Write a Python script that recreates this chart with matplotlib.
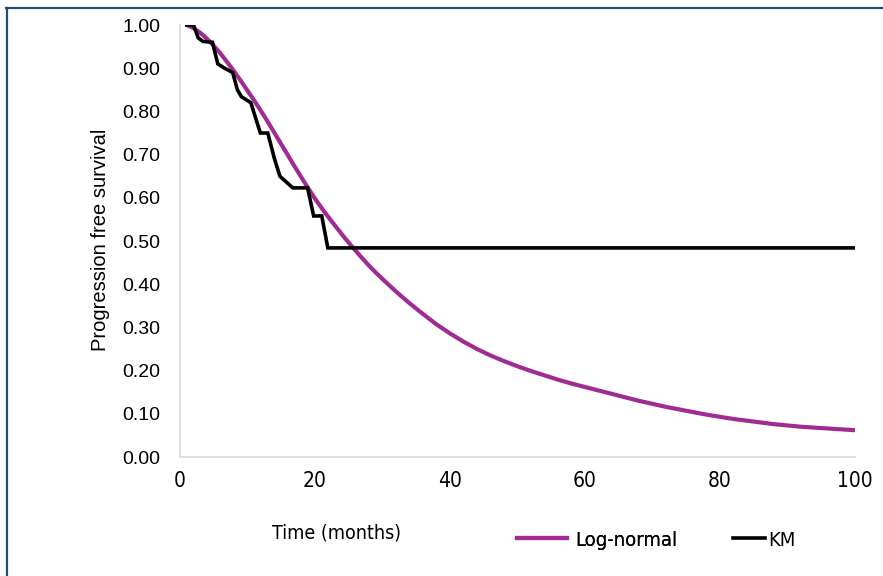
import matplotlib.pyplot as plt
from matplotlib.lines import Line2D
from matplotlib.ticker import FormatStrFormatter
from matplotlib.font_manager import FontProperties

# ------------------------------------------------------------------
# Data
# ------------------------------------------------------------------
km_time = [1, 2, 2.7, 3.4, 4.8, 5.6, 6.6, 7.8, 8.5, 9.1, 10.5, 11.9, 13.0,
           14.0, 14.8, 16.7, 18.9, 19.8, 21.0, 21.9, 100]
km_surv = [1.0, 1.0, 0.97, 0.962, 0.96, 0.91, 0.90, 0.89, 0.85, 0.834, 0.82,
           0.75, 0.75, 0.69, 0.65, 0.623, 0.623, 0.558, 0.558, 0.484, 0.484]

ln_time = [1, 2, 3, 4, 5, 6, 7, 8, 9, 10, 11, 12, 13, 14, 15, 16, 17, 18, 19,
           20, 21, 22, 23, 24, 25, 26, 27, 28, 29, 30, 32, 34, 36, 38, 40, 42,
           44, 46, 48, 50, 52, 54, 56, 58, 60, 62, 64, 66, 68, 70, 72, 74, 76,
           78, 80, 82, 84, 86, 88, 90, 92, 94, 96, 98, 100]
ln_surv = [1.000, 0.993, 0.982, 0.968, 0.952, 0.934, 0.914, 0.893, 0.871,
           0.848, 0.825, 0.801, 0.776, 0.750, 0.724, 0.698, 0.672, 0.647,
           0.622, 0.598, 0.576, 0.555, 0.535, 0.515, 0.496, 0.478, 0.460,
           0.443, 0.427, 0.412, 0.383, 0.356, 0.331, 0.307, 0.286, 0.267,
           0.250, 0.235, 0.222, 0.210, 0.199, 0.189, 0.179, 0.170, 0.162,
           0.154, 0.146, 0.138, 0.130, 0.123, 0.116, 0.110, 0.104, 0.098,
           0.093, 0.088, 0.084, 0.080, 0.076, 0.073, 0.070, 0.068, 0.066,
           0.064, 0.062]

x_ticks = [0, 20, 40, 60, 80, 100]
y_ticks = [0.0, 0.1, 0.2, 0.3, 0.4, 0.5, 0.6, 0.7, 0.8, 0.9, 1.0]

purple = '#A02B93'
arial = ['Liberation Sans', 'DejaVu Sans']


def narrow(size):
    return FontProperties(family='DejaVu Sans', stretch='condensed', size=size)


# ------------------------------------------------------------------
# Figure
# ------------------------------------------------------------------
fig = plt.figure(figsize=(8.83, 5.76), dpi=100)
ax = fig.add_axes([180 / 883, 1 - 457 / 576, 675 / 883, 432 / 576])

ax.plot(ln_time, ln_surv, color=purple, linewidth=3.0, solid_capstyle='butt',
        label='Log-normal', zorder=2)
ax.plot(km_time, km_surv, color='black', linewidth=2.6, solid_joinstyle='miter',
        label='KM', zorder=3)

ax.set_xlim(0, 100)
ax.set_ylim(0, 1)
ax.set_xticks(x_ticks)
ax.set_yticks(y_ticks)
ax.yaxis.set_major_formatter(FormatStrFormatter('%.2f'))
ax.tick_params(length=0)
ax.tick_params(axis='y', pad=14, labelsize=14)
ax.tick_params(axis='x', pad=10)
for lbl in ax.get_yticklabels():
    lbl.set_family(arial)
for lbl in ax.get_xticklabels():
    lbl.set_fontproperties(narrow(15))

for side in ['top', 'right']:
    ax.spines[side].set_visible(False)
for side in ['left', 'bottom']:
    ax.spines[side].set_color('#D9D9D9')
    ax.spines[side].set_linewidth(1.2)

fig.text(100 / 883, 1 - 240 / 576, 'Progression free survival', rotation=90,
         ha='center', va='center', fontsize=14.5, family=arial)
fig.text(337 / 883, 1 - 533 / 576, 'Time (months)', ha='center', va='center',
         fontproperties=narrow(14))

# legend: two entries with their own line lengths
h_ln = Line2D([], [], color=purple, linewidth=3.0)
h_km = Line2D([], [], color='black', linewidth=2.6)
leg1 = fig.legend([h_ln], ['Log-normal'], loc='center left',
                  bbox_to_anchor=(517 / 883, 1 - 540 / 576), frameon=False,
                  borderpad=0, borderaxespad=0, handlelength=2.5,
                  handletextpad=0.4, prop=narrow(14.5))
leg2 = fig.legend([h_km], ['KM'], loc='center left',
                  bbox_to_anchor=(733 / 883, 1 - 540 / 576), frameon=False,
                  borderpad=0, borderaxespad=0, handlelength=1.6,
                  handletextpad=0.15, prop=narrow(14.5))
fig.add_artist(leg1)

# outer frame (left and top edges)
fig.add_artist(Line2D([6.5 / 883, 6.5 / 883], [0, 1 - 8 / 576], color='#1F4E6E',
                      linewidth=1.6, transform=fig.transFigure))
fig.add_artist(Line2D([5.7 / 883, 1], [1 - 8 / 576, 1 - 8 / 576], color='#1F4E6E',
                      linewidth=1.6, transform=fig.transFigure))

fig.savefig('out.png', dpi=100)
